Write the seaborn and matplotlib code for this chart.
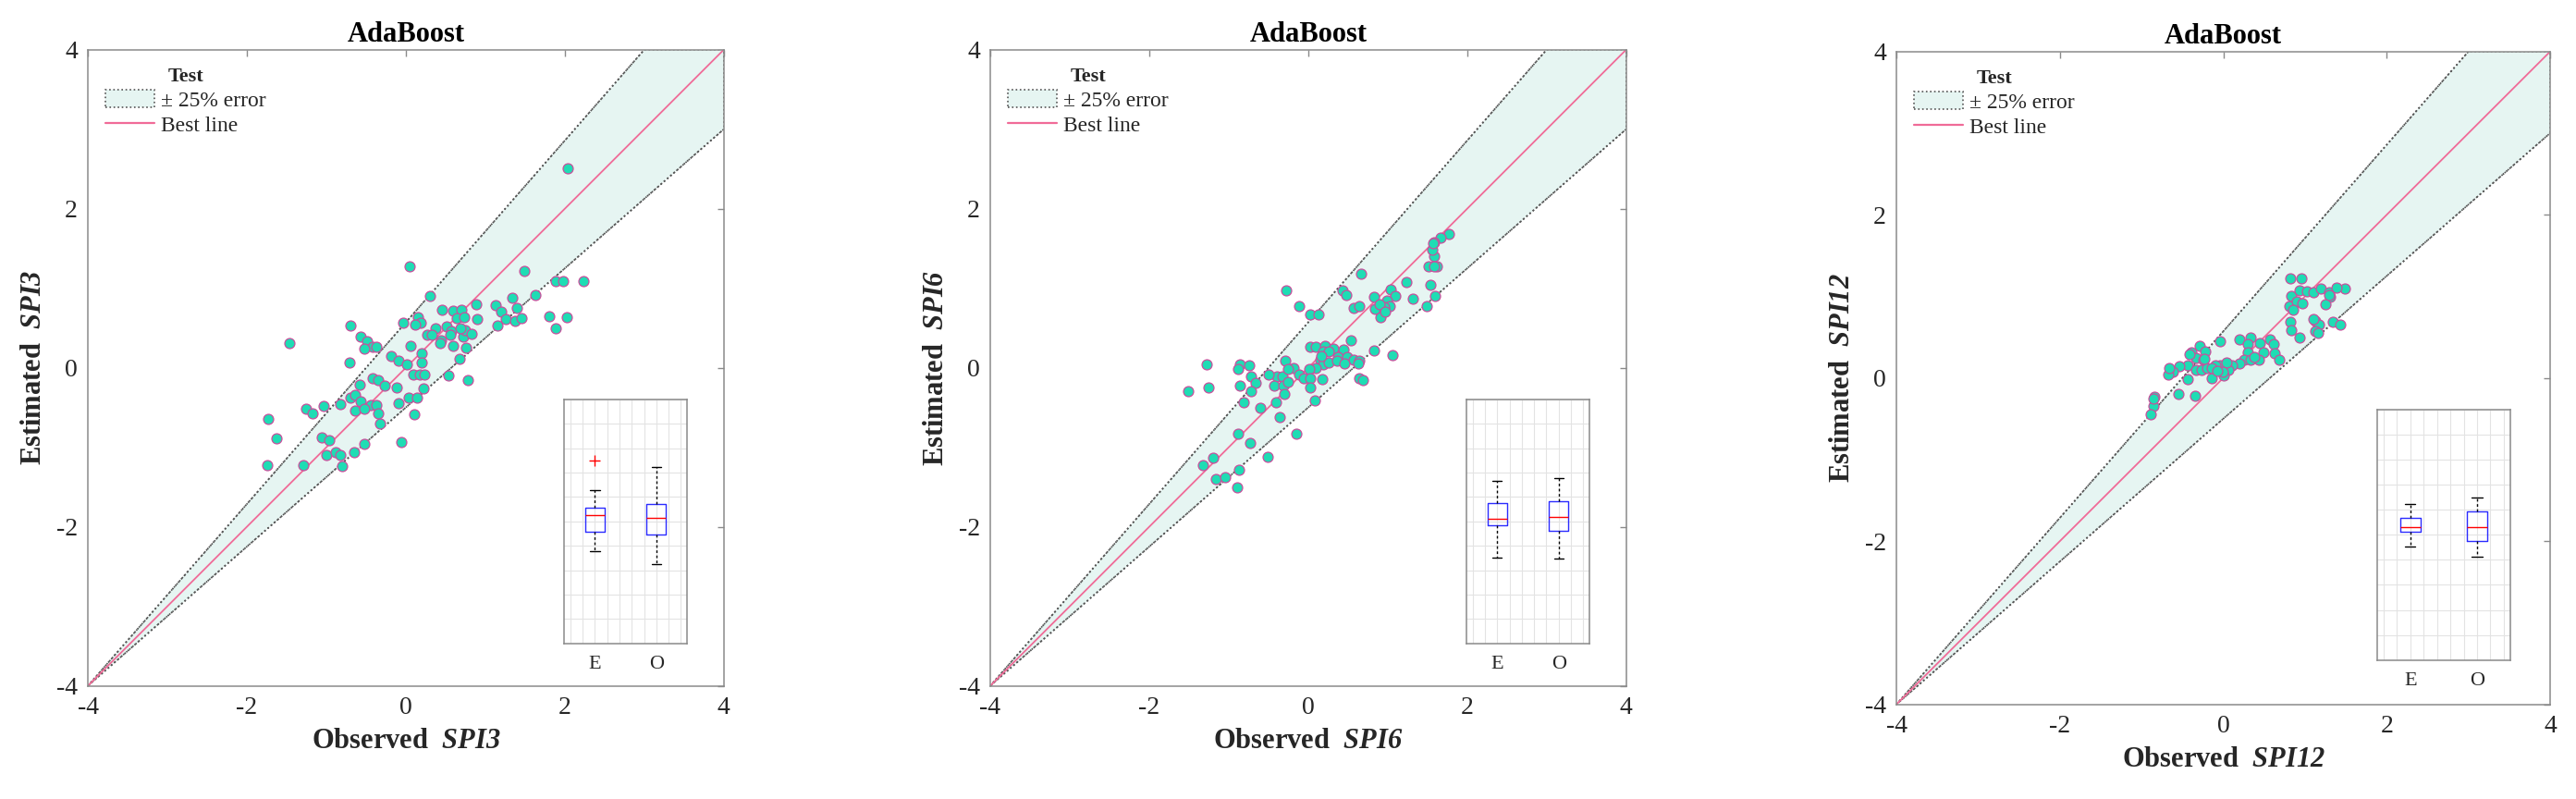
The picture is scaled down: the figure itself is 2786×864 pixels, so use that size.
"""AdaBoost test-set scatter: observed vs estimated SPI3 / SPI6 / SPI12."""
import matplotlib
matplotlib.use("Agg")
import matplotlib.pyplot as plt
import numpy as np
import pandas as pd
import seaborn as sns
from matplotlib.lines import Line2D
from matplotlib.patches import Patch

# (observed, estimated) pairs
spi3_pairs = np.array([
    (2.04, 2.51), (0.05, 1.28), (1.49, 1.22), (1.89, 1.09), (1.98, 1.09), (2.23, 1.09),
    (0.30, 0.90), (1.63, 0.91), (1.34, 0.88), (0.46, 0.73), (0.59, 0.72), (0.70, 0.73),
    (0.89, 0.80), (1.13, 0.79), (1.20, 0.71), (1.40, 0.75), (1.26, 0.61), (1.37, 0.59),
    (1.46, 0.62), (1.15, 0.53), (1.80, 0.65), (2.03, 0.63), (1.89, 0.50), (-0.70, 0.53),
    (-0.03, 0.57), (0.15, 0.63), (0.19, 0.56), (0.12, 0.54), (0.37, 0.50), (0.51, 0.52),
    (0.64, 0.62), (0.73, 0.63), (0.90, 0.61), (0.27, 0.42), (0.33, 0.42), (0.44, 0.34),
    (0.57, 0.46), (0.72, 0.39), (0.75, 0.47), (0.83, 0.43), (-1.46, 0.31), (-0.57, 0.39),
    (-0.49, 0.33), (-0.42, 0.26), (-0.37, 0.26), (-0.52, 0.24), (0.06, 0.27), (0.20, 0.18),
    (-0.19, 0.15), (-0.09, 0.09), (0.01, 0.04), (0.59, 0.28), (0.76, 0.25), (0.68, 0.11),
    (-0.71, 0.07), (0.20, 0.07), (0.09, -0.09), (0.17, -0.08), (0.23, -0.08), (0.53, -0.10),
    (0.78, -0.15), (-0.42, -0.13), (-0.35, -0.16), (-0.58, -0.21), (-0.27, -0.23), (-0.12, -0.25),
    (0.22, -0.26), (0.03, -0.38), (0.14, -0.38), (-0.70, -0.38), (-0.64, -0.34), (-0.57, -0.42),
    (-0.44, -0.47), (-0.37, -0.47), (-0.82, -0.46), (-1.03, -0.48), (-0.09, -0.45), (-1.25, -0.51),
    (-1.17, -0.57), (-0.64, -0.54), (-0.52, -0.51), (-0.35, -0.57), (-0.32, -0.70), (0.10, -0.59),
    (-1.73, -0.64), (-1.63, -0.89), (-1.06, -0.88), (-0.97, -0.91), (-0.06, -0.93), (-0.52, -0.96),
    (-1.00, -1.10), (-0.88, -1.06), (-0.82, -1.10), (-0.65, -1.06), (-1.74, -1.23), (-1.29, -1.23),
    (-0.80, -1.24), (0.56, 0.42), (0.69, 0.50), (0.43, 0.31),
])

spi6_pairs = np.array([
    (1.77, 1.68), (1.66, 1.63), (1.58, 1.58), (1.58, 1.40), (1.56, 1.48), (1.51, 1.27),
    (1.62, 1.27), (1.58, 1.27), (1.54, 1.04), (1.60, 0.90), (1.49, 0.77), (1.24, 1.08),
    (1.31, 0.87), (0.66, 1.18), (0.43, 0.97), (0.48, 0.92), (1.04, 0.98), (1.09, 0.90),
    (0.83, 0.89), (0.99, 0.85), (1.02, 0.77), (0.87, 0.74), (0.95, 0.76), (0.91, 0.64),
    (0.84, 0.74), (0.57, 0.75), (0.64, 0.77), (-0.28, 0.97), (-0.11, 0.77), (0.03, 0.67),
    (0.13, 0.67), (1.06, 0.16), (0.83, 0.22), (0.54, 0.34), (0.02, 0.26), (0.09, 0.26),
    (0.21, 0.27), (0.31, 0.24), (0.44, 0.23), (0.19, 0.20), (0.26, 0.20), (0.37, 0.14),
    (0.49, 0.13), (0.57, 0.10), (0.64, 0.09), (0.15, 0.10), (0.19, 0.04), (0.26, 0.07),
    (0.64, -0.13), (0.69, -0.16), (0.09, 0.00), (0.01, -0.01), (-0.29, 0.09), (-0.19, 0.00),
    (-0.12, -0.09), (-0.06, -0.13), (0.03, -0.13), (0.18, -0.14), (-0.39, -0.11), (-0.32, -0.11),
    (-0.43, -0.22), (-0.31, -0.22), (-0.25, -0.18), (-0.50, -0.09), (0.02, -0.25), (-0.30, -0.33),
    (-1.28, 0.04), (-0.86, 0.04), (-0.74, 0.03), (-0.88, -0.02), (-0.72, -0.11), (-0.66, -0.19),
    (-0.72, -0.30), (-0.86, -0.22), (-1.26, -0.25), (-1.51, -0.30), (-0.81, -0.43), (-0.60, -0.50),
    (-0.41, -0.44), (0.08, -0.41), (-0.36, -0.62), (-0.15, -0.83), (-0.88, -0.83), (-0.73, -0.95),
    (-0.51, -1.12), (-1.33, -1.23), (-1.20, -1.13), (-1.16, -1.40), (-1.05, -1.38), (-0.87, -1.28),
    (-0.89, -1.50), (0.16, 0.15), (0.36, 0.09), (0.45, 0.05), (0.63, 0.05), (-0.25, -0.02),
    (0.90, 0.80), (0.97, 0.70), (1.57, 1.57),
])

spi12_pairs = np.array([
    (1.49, 1.09), (0.82, 1.22), (0.95, 1.22), (0.83, 1.00), (0.93, 1.07), (1.02, 1.06),
    (1.10, 1.05), (1.19, 1.09), (1.29, 1.05), (1.38, 1.11), (0.81, 0.88), (0.90, 0.94),
    (0.97, 0.91), (0.85, 0.84), (1.31, 0.99), (1.25, 0.90), (0.82, 0.69), (0.83, 0.58),
    (0.93, 0.49), (1.12, 0.70), (1.17, 0.65), (1.13, 0.57), (1.34, 0.69), (1.43, 0.65),
    (-0.04, 0.45), (0.20, 0.47), (0.33, 0.50), (0.30, 0.41), (0.57, 0.47), (0.61, 0.42),
    (0.63, 0.30), (0.68, 0.22), (0.45, 0.43), (0.49, 0.31), (0.43, 0.22), (0.30, 0.31),
    (0.25, 0.22), (0.33, 0.22), (0.20, 0.18), (0.11, 0.16), (0.03, 0.16), (-0.04, 0.15),
    (-0.10, 0.15), (0.06, 0.10), (-0.14, 0.00), (0.00, 0.03), (-0.29, 0.39), (-0.39, 0.31),
    (-0.22, 0.33), (-0.34, 0.25), (-0.24, 0.22), (-0.44, 0.16), (-0.34, 0.10), (-0.27, 0.10),
    (-0.20, 0.12), (-0.14, 0.12), (-0.54, 0.14), (-0.62, 0.07), (-0.67, 0.04), (-0.66, 0.12),
    (-0.44, -0.01), (-0.55, -0.20), (-0.35, -0.22), (-0.84, -0.23), (-0.85, -0.34), (-0.89, -0.45),
    (0.04, 0.19), (-0.01, 0.07), (-0.08, 0.09), (0.38, 0.26), (-0.41, 0.29), (-0.23, 0.23),
    (-0.85, -0.25), (1.16, 0.55), (1.10, 0.72), (1.30, 1.01),
])

panel_names = ["SPI3", "SPI6", "SPI12"]
panel_pairs = [spi3_pairs, spi6_pairs, spi12_pairs]
axis_lim = (-4, 4)
axis_ticks = [-4, -2, 0, 2, 4]
box_labels = ["E", "O"]

FILL = "#e6f5f2"
DOT = "#555555"
PINK = "#f06b98"
FACE = "#1fdcb4"
EDGE = "#c94f9c"
SPINE = "#8a8a8a"
TXT = "#262626"

sns.set_style("white")
plt.rcParams["font.family"] = ["Liberation Serif", "DejaVu Serif"]
plt.rcParams["axes.unicode_minus"] = False
# italic-bold for the index name inside the axis labels (digits included)
plt.rcParams["mathtext.fontset"] = "custom"
plt.rcParams["mathtext.rm"] = "Liberation Serif:italic:bold"
plt.rcParams["mathtext.it"] = "Liberation Serif:italic:bold"

fig = plt.figure(figsize=(27.86, 8.64), dpi=100)
axes_pos = [
    [0.0341, 0.1416, 0.2469, 0.7963],
    [0.3844, 0.1416, 0.2469, 0.7963],
    [0.7362, 0.1185, 0.2538, 0.8171],
]
inset_pos = [
    [0.749, 0.067, 0.193, 0.383],
    [0.749, 0.067, 0.193, 0.383],
    [0.735, 0.068, 0.204, 0.383],
]

for name, pairs, pos, ipos in zip(panel_names, panel_pairs, axes_pos, inset_pos):
    ax = fig.add_axes(pos)
    lo, hi = axis_lim
    d = (hi - lo) / 8  # error lines meet the frame one unit short of the corner

    # +-25% band, anchored at the lower-left corner
    ax.fill([lo, hi - d, hi, hi], [lo, hi, hi, hi - d], facecolor=FILL,
            edgecolor=DOT, linestyle=":", linewidth=1.2, zorder=1)
    ax.plot([lo, hi - d], [lo, hi], color=DOT, ls=":", lw=1.3, zorder=2)
    ax.plot([lo, hi], [lo, hi - d], color=DOT, ls=":", lw=1.3, zorder=2)
    ax.plot([lo, hi], [lo, hi], color=PINK, lw=1.3, zorder=2)

    sns.scatterplot(x=pairs[:, 0], y=pairs[:, 1], ax=ax, s=62, color=FACE,
                    edgecolor=EDGE, linewidth=0.9, zorder=3)

    ax.set_xlim(axis_lim)
    ax.set_ylim(axis_lim)
    ax.set_xticks(axis_ticks)
    ax.set_yticks(axis_ticks)
    ax.tick_params(direction="in", top=True, right=True, length=5, width=1,
                   color=SPINE, labelsize=20, labelcolor=TXT, pad=8)
    for sp in ax.spines.values():
        sp.set_color(SPINE)
        sp.set_linewidth(1.1)
    ax.set_title("AdaBoost", fontsize=22, fontweight="bold", color="black", pad=6)
    ax.set_xlabel(f"Observed  $\\mathrm{{{name}}}$", fontsize=22,
                  fontweight="bold", color=TXT, labelpad=7)
    ax.set_ylabel(f"Estimated  $\\mathrm{{{name}}}$", fontsize=22,
                  fontweight="bold", color=TXT, labelpad=7)

    handles = [
        Patch(facecolor=FILL, edgecolor=DOT, linestyle=":", linewidth=1.2),
        Line2D([], [], color=PINK, lw=1.6),
    ]
    ax.legend(handles, ["\u00b1 25% error", "Best line"], title="Test",
              title_fontproperties={"weight": "bold", "size": 16},
              loc="upper left", bbox_to_anchor=(0.0, 1.0), frameon=False,
              fontsize=17, handlelength=2.25, handleheight=0.85,
              handletextpad=0.3, labelspacing=0.2, borderaxespad=0.4,
              borderpad=0.4)

    # inset boxplot of estimated (E) vs observed (O)
    ins = ax.inset_axes(ipos)
    ins.set_facecolor("white")
    box_df = pd.DataFrame({
        "group": [box_labels[0]] * len(pairs) + [box_labels[1]] * len(pairs),
        "value": np.concatenate([pairs[:, 1], pairs[:, 0]]),
    })
    sns.boxplot(data=box_df, x="group", y="value", ax=ins, width=0.31,
                fill=False, color="#2b2bff", linewidth=1.0, whis=1.5,
                medianprops={"color": "red"},
                whiskerprops={"color": "black", "linestyle": (0, (2, 2))},
                capprops={"color": "black"},
                flierprops={"marker": "+", "markeredgecolor": "red",
                            "markersize": 8, "markeredgewidth": 1})
    ins.set_xlim(-0.5, 1.5)
    ins.set_ylim(-5, 5)
    ins.set_yticks(range(-5, 6))
    ins.set_yticklabels([])
    ins.set_xticks([0, 1])
    ins.set_xticklabels(box_labels)
    ins.set_xticks(np.arange(-0.4, 1.5, 0.2), minor=True)
    ins.grid(True, which="both", axis="x", color="#e3e3e3", lw=0.8)
    ins.grid(True, which="major", axis="y", color="#e3e3e3", lw=0.8)
    ins.set_axisbelow(True)
    ins.tick_params(axis="x", which="major", length=0, labelsize=16,
                    labelcolor=TXT, pad=10)
    ins.tick_params(axis="both", which="both", direction="in", color=SPINE)
    ins.tick_params(axis="y", length=3)
    ins.set_xlabel("")
    ins.set_ylabel("")
    for sp in ins.spines.values():
        sp.set_color(SPINE)
        sp.set_linewidth(1.1)

fig.savefig("out.png", dpi=100)
